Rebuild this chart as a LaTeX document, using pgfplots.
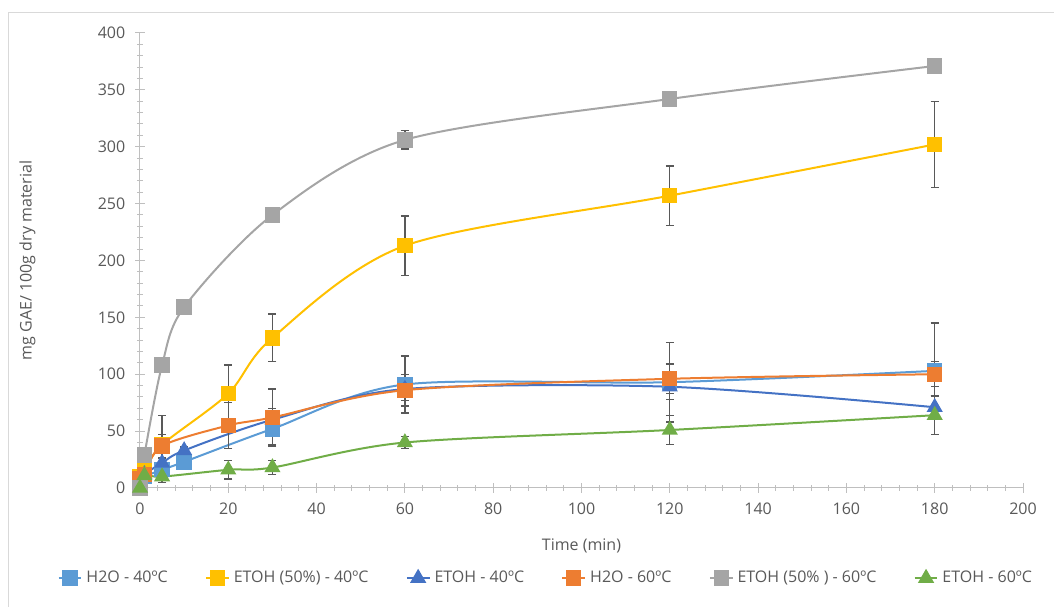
\documentclass[border=0pt]{standalone}
\usepackage{pgfplots}
\pgfplotsset{compat=1.18}
\usepackage{pgfplotstable}
\usepackage{fontspec}
\setmainfont{Open Sans}
\definecolor{cLB}{HTML}{5B9BD5}
\definecolor{cY}{HTML}{FFC000}
\definecolor{cDB}{HTML}{4472C4}
\definecolor{cO}{HTML}{ED7D31}
\definecolor{cG}{HTML}{A5A5A5}
\definecolor{cGr}{HTML}{70AD47}
\definecolor{cTxt}{HTML}{595959}
\definecolor{cAx}{HTML}{BFBFBF}
\definecolor{cBorder}{HTML}{D9D9D9}

\pgfplotstableread{
x y e
0 5 0
1 10 2
5 16 3
10 23 3
30 52 14
60 91 25
120 93 35
180 103 42
}\tLB
\pgfplotstableread{
x y e
0 10 1
1 15 2
5 38 26
20 83 25
30 132 21
60 213 26
120 257 26
180 302 38
}\tY
\pgfplotstableread{
x y e
0 5 0
1 12 2
5 22 4
10 33 3
30 60 10
60 87 10
120 89 11
180 71 10
}\tDB
\pgfplotstableread{
x y e
0 8 1
1 12 2
5 37 10
20 55 20
30 62 25
60 86 14
120 96 13
180 100 11
}\tO
\pgfplotstableread{
x y e
0 0 0
1 29 2
5 108 3
10 159 3
30 240 3
60 306 8
120 342 4
180 371 4
}\tG
\pgfplotstableread{
x y e
0 0 0
1 11 2
5 10 5
20 16 8
30 18 6
60 40 5
120 51 13
180 64 17
}\tGr

\begin{document}
\begin{tikzpicture}
\useasboundingbox (-105pt,-89.25pt) rectangle (685.5pt,366pt);
\draw[cBorder, line width=0.75pt] (-98.25pt,-120pt) -- (-98.25pt,356.25pt) -- (720pt,356.25pt);
\begin{axis}[
  at={(0,0)}, anchor=south west,
  scale only axis,
  width=662.25pt, height=341.25pt,
  xmin=0, xmax=200, ymin=0, ymax=400,
  xtick={0,20,...,200}, ytick={0,50,...,400},
  minor x tick num=4, minor y tick num=4,
  axis lines=left,
  axis line style={cAx, line width=0.75pt, -},
  tick style={cAx, line width=0.75pt},
  tick align=center,
  major tick length=7pt, minor tick length=4pt,
  every tick label/.append style={font=\fontsize{12}{14}\selectfont, text=cTxt},
  xticklabel style={yshift=-4pt},
  yticklabel style={xshift=-4pt},
  /pgf/number format/assume math mode=true,
  xlabel={Time (min)}, ylabel={mg GAE/ 100g dry material},
  label style={font=\fontsize{12}{14}\selectfont, text=cTxt},
  xlabel style={yshift=-11pt},
  ylabel style={yshift=40pt},
  clip=false,
  legend columns=6,
  legend style={at={(0.46,-0.198)}, anchor=center, draw=none, fill=none,
    font=\fontsize{12}{14}\selectfont, text=cTxt,
    /tikz/every even column/.append style={column sep=26pt},
    /tikz/every odd column/.append style={column sep=1pt}},
  every axis plot/.append style={line width=1.5pt, smooth, tension=0.5},
  error bars/error bar style={color=cTxt, line width=1pt},
  error bars/error mark options={rotate=90, color=cTxt, mark size=3pt, line width=1pt},
]
\addplot[cLB, mark=square*, mark size=5pt, error bars/.cd, y dir=both, y explicit] table[x=x,y=y,y error=e]{\tLB};
\addlegendentry{H2O - 40ºC}
\addplot[cY, mark=square*, mark size=5pt, error bars/.cd, y dir=both, y explicit] table[x=x,y=y,y error=e]{\tY};
\addlegendentry{ETOH (50\%) - 40ºC}
\addplot[cDB, mark=triangle*, mark size=5.5pt, error bars/.cd, y dir=both, y explicit] table[x=x,y=y,y error=e]{\tDB};
\addlegendentry{ETOH - 40ºC}
\addplot[cO, mark=square*, mark size=5pt, error bars/.cd, y dir=both, y explicit] table[x=x,y=y,y error=e]{\tO};
\addlegendentry{H2O - 60ºC}
\addplot[cG, mark=square*, mark size=5pt, error bars/.cd, y dir=both, y explicit] table[x=x,y=y,y error=e]{\tG};
\addlegendentry{ETOH (50\% ) -  60ºC}
\addplot[cGr, mark=triangle*, mark size=5.5pt, error bars/.cd, y dir=both, y explicit] table[x=x,y=y,y error=e]{\tGr};
\addlegendentry{ETOH - 60ºC}
\end{axis}
\end{tikzpicture}
\end{document}
